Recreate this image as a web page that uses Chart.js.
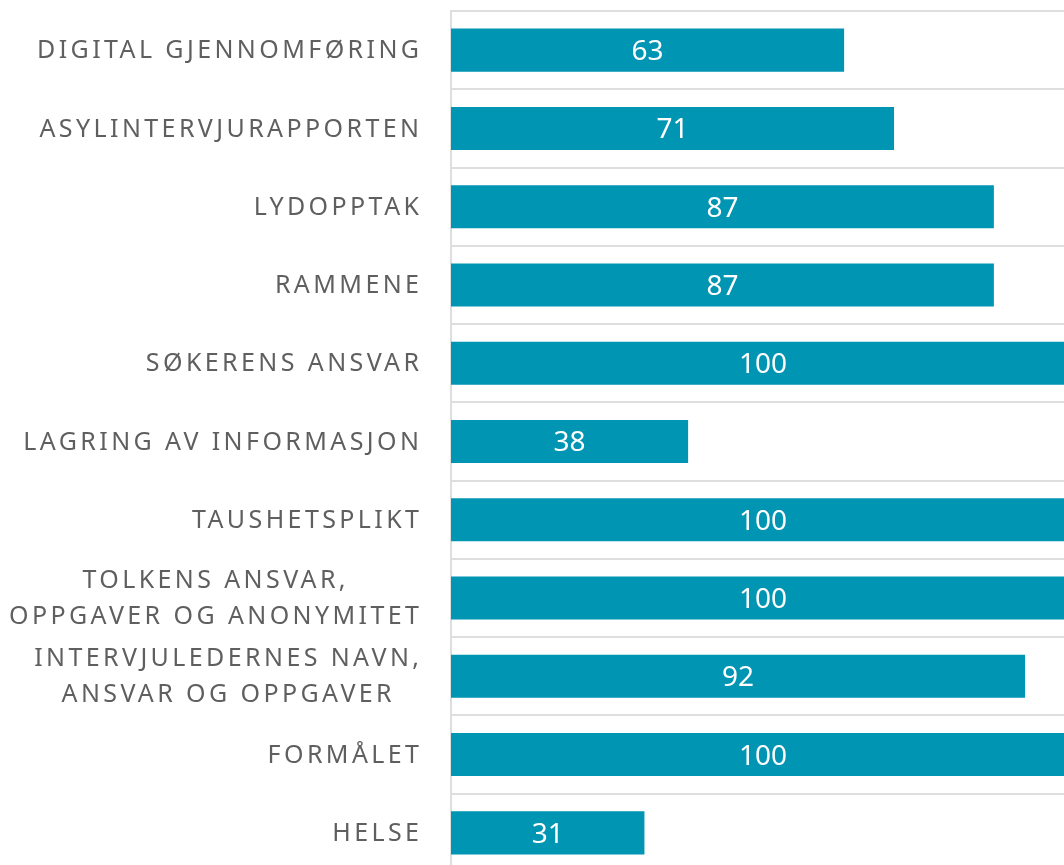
<!DOCTYPE html>
<html>
<head>
<meta charset="utf-8">
<script src="https://cdn.jsdelivr.net/npm/chart.js@4"></script>
<style>
  html, body { margin: 0; padding: 0; background: #fff; overflow: hidden; }
  #wrap { width: 1064px; height: 865px; overflow: hidden; }
</style>
</head>
<body>
<div id="wrap"><canvas id="chart" width="1076" height="874"></canvas></div>
<script>
// Categories (multi-line ones as arrays)
const categories = [
  'DIGITAL GJENNOMFØRING',
  'ASYLINTERVJURAPPORTEN',
  'LYDOPPTAK',
  'RAMMENE',
  'SØKERENS ANSVAR',
  'LAGRING AV INFORMASJON',
  'TAUSHETSPLIKT',
  ['TOLKENS ANSVAR,', 'OPPGAVER OG ANONYMITET'],
  ['INTERVJULEDERNES NAVN,', 'ANSVAR OG OPPGAVER'],
  'FORMÅLET',
  'HELSE'
];
const values = [63, 71, 87, 87, 100, 38, 100, 100, 92, 100, 31];

const barColor = '#0095b3';
const gridColor = '#dedede';
const labelColor = '#5f5f5f';
const labelFont = '400 25px "Noto Sans"';
const labelSpacing = 3.4;
const labelLineHeight = 36;

// Category labels: right-aligned block, lines centered within it, letter-spaced
const sideLabels = {
  id: 'sideLabels',
  afterDraw(chart) {
    const ctx = chart.ctx;
    const yScale = chart.scales.y;
    const rightEdge = chart.chartArea.left - 32;
    ctx.save();
    ctx.font = labelFont;
    ctx.fillStyle = labelColor;
    ctx.letterSpacing = labelSpacing + 'px';
    ctx.textBaseline = 'middle';
    ctx.textAlign = 'left';
    categories.forEach((lab, i) => {
      const lines = [].concat(lab);
      const y = yScale.getPixelForTick(i) + 1;
      const widths = lines.map(l => ctx.measureText(l).width - labelSpacing);
      const widest = Math.max(...widths);
      const center = rightEdge - widest / 2;
      lines.forEach((l, j) => {
        const ly = y + (j - (lines.length - 1) / 2) * labelLineHeight;
        ctx.fillText(l, center - widths[j] / 2, ly);
      });
    });
    ctx.restore();
  }
};

// Values in the middle of each bar
const barValues = {
  id: 'barValues',
  afterDatasetsDraw(chart) {
    const ctx = chart.ctx;
    const meta = chart.getDatasetMeta(0);
    ctx.save();
    ctx.font = '400 28px "Noto Sans"';
    ctx.fillStyle = '#ffffff';
    ctx.textAlign = 'center';
    ctx.textBaseline = 'middle';
    meta.data.forEach((bar, i) => {
      ctx.fillText(String(values[i]), (bar.x + bar.base) / 2, bar.y + 2);
    });
    ctx.restore();
  }
};

new Chart(document.getElementById('chart'), {
  type: 'bar',
  plugins: [sideLabels, barValues],
  data: {
    labels: categories,
    datasets: [{
      data: values,
      backgroundColor: barColor,
      borderWidth: 0,
      barPercentage: 0.55,
      categoryPercentage: 1
    }]
  },
  options: {
    indexAxis: 'y',
    responsive: false,
    animation: false,
    devicePixelRatio: 1,
    layout: { padding: { top: 11, right: 1, bottom: 2, left: 0 } },
    plugins: {
      legend: { display: false },
      tooltip: { enabled: false }
    },
    scales: {
      x: {
        display: false,
        min: 0,
        max: 100
      },
      y: {
        afterFit(scale) { scale.width = 451; },
        ticks: { display: false },
        grid: { color: gridColor, lineWidth: 2, offset: true, drawTicks: false },
        border: { display: true, color: gridColor, width: 2 }
      }
    }
  }
});
</script>
</body>
</html>
